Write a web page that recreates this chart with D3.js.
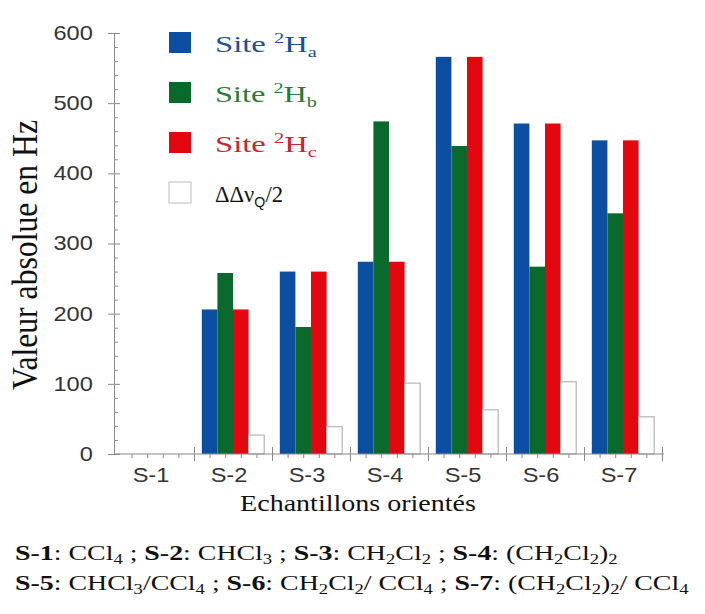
<!DOCTYPE html>
<html><head><meta charset="utf-8">
<script src="https://cdn.jsdelivr.net/npm/d3@7"></script>
<style>body{margin:0;background:#fff}</style>
</head><body>
<svg id="c" width="705" height="614"></svg>
<script>
// ---- data ----
const categories = ["S-1","S-2","S-3","S-4","S-5","S-6","S-7"];
const siteA = [0,206,260,274,566,471,447];
const siteB = [0,258,181,474,439,267,343];
const siteC = [0,206,260,274,566,471,447];
const deltaHalf = [0,27,39,101,63,103,53];
const yTicks = [0,100,200,300,400,500,600];
const seriesKeys = ["a","b","c","d"];
const legendSubs = ["a","b","c"];
const noteLine1 = [["S-1",": CCl","4"," ; "],["S-2",": CHCl","3"," ; "],["S-3",": CH","2","Cl","2"," ; "],["S-4",": (CH","2","Cl","2",")","2"]];
const noteLine2 = [["S-5",": CHCl","3","/CCl","4"," ; "],["S-6",": CH","2","Cl","2","/ CCl","4"," ; "],["S-7",": (CH","2","Cl","2",")","2","/ CCl","4"]];

// ---- style ----
const colors = {a:"#0b4ea2", b:"#0a6a2b", c:"#e4070f", d:"#ffffff"};
const textColors = ["#1d4f9a","#2a7a38","#d0232b","#111"];
const SX = 1.18;
const serif = "'Liberation Serif', 'Times New Roman', Times, serif";
const sans = "'Liberation Sans', Arial, Helvetica, sans-serif";

const svg = d3.select("#c");
const y = d3.scaleLinear().domain([0,600]).range([454,33]);
const x = d3.scaleBand().domain(categories).range([116,662]);
const xs = d3.scaleBand().domain(seriesKeys).range([x.bandwidth()*0.1, x.bandwidth()*0.9]);
const xt = d3.scaleLinear().domain([0,7]).range([116,662]);

const rows = categories.map((c,i)=>({cat:c, a:siteA[i], b:siteB[i], c:siteC[i], d:deltaHalf[i]}));

// bars
const g = svg.append("g");
rows.forEach(r=>{
  seriesKeys.forEach(k=>{
    if (r[k] <= 0) return;
    g.append("rect")
      .attr("x", x(r.cat)+xs(k))
      .attr("width", xs.bandwidth())
      .attr("y", y(r[k]))
      .attr("height", y(0)-y(r[k]))
      .attr("fill", colors[k])
      .attr("stroke", k==="d" ? "#b5b5b5" : "none")
      .attr("stroke-width", 1.2);
  });
});

// y axis
const axColor = "#8a8a8a";
const ya = svg.append("g").attr("transform","translate(114,0)")
  .call(d3.axisLeft(y).tickValues(yTicks).tickSize(6).tickSizeOuter(0).tickPadding(12));
ya.selectAll(".tick line").attr("x1",6).attr("stroke",axColor);
ya.select(".domain").attr("stroke",axColor);
ya.selectAll("text").attr("font-family",sans).attr("font-size",20)
  .attr("fill","#333").attr("transform",`scale(${SX},1)`);
const yminor = d3.range(0,601,20).filter(v=>v%100!==0);
const ym = svg.append("g").attr("transform","translate(114,0)")
  .call(d3.axisRight(y).tickValues(yminor).tickSize(4).tickFormat(""));
ym.select(".domain").remove();
ym.selectAll(".tick line").attr("stroke",axColor);

// x axis ticks
const xa = svg.append("g").attr("transform","translate(0,454)")
  .call(d3.axisBottom(xt).tickValues(d3.range(1,8)).tickSize(7).tickSizeOuter(0).tickFormat(""));
xa.selectAll(".tick line").attr("y1",-7).attr("stroke",axColor);
xa.select(".domain").attr("stroke",axColor).attr("d","M114,0H664");
const xminor = d3.range(0,7.01,0.2).filter(v=>Math.abs(v-Math.round(v))>1e-6);
const xm = svg.append("g").attr("transform","translate(0,454)")
  .call(d3.axisBottom(xt).tickValues(xminor).tickSize(4).tickFormat(""));
xm.select(".domain").remove();
xm.selectAll(".tick line").attr("stroke",axColor);

// x category labels
const xl = svg.append("g").attr("transform","translate(-4,454)")
  .call(d3.axisBottom(x).tickSize(0).tickPadding(14));
xl.select(".domain").remove();
xl.selectAll("text").attr("font-family",sans).attr("font-size",20)
  .attr("fill","#333").attr("transform",`scale(${SX},1)`);

// helper: stretch text horizontally to a target width
function fit(t, tx, ty, target, post) {
  const w = t.node().getComputedTextLength();
  t.attr("transform", `translate(${tx},${ty}) scale(${target/w},1)${post||""}`);
}

// axis titles
const yl = svg.append("text")
  .attr("text-anchor","middle").attr("font-family",serif).attr("font-size",30).attr("fill","#111")
  .text("Valeur absolue en Hz");
{
  const w = yl.node().getComputedTextLength();
  yl.attr("font-size", 30*270/w);
  yl.attr("transform","translate(37,255) scale(1.15,1) rotate(-90)");
}
const xlab = svg.append("text")
  .attr("text-anchor","middle").attr("font-family",serif).attr("font-size",23).attr("fill","#111")
  .text("Echantillons orientés");
fit(xlab, 358, 511, 236);

// legend
const lg = svg.append("g");
const legendW = [102,102,102,68];
seriesKeys.forEach((k,i)=>{
  const ty = 32 + i*50;
  lg.append("rect").attr("x",169).attr("y",ty).attr("width",22).attr("height",21)
    .attr("fill",colors[k]).attr("stroke", k==="d" ? "#c8c8c8" : "none").attr("stroke-width",1.2);
  const t = lg.append("text")
    .attr("font-family",serif).attr("font-size",24).attr("fill",textColors[i]);
  if (k !== "d") {
    t.append("tspan").text("Site ");
    t.append("tspan").attr("font-size",15).attr("dy",-9).text("2");
    t.append("tspan").attr("dy",9).text("H");
    t.append("tspan").attr("font-size",15).attr("dy",5).text(legendSubs[i]);
  } else {
    t.append("tspan").text("ΔΔν");
    t.append("tspan").attr("font-size",15).attr("dy",5).attr("font-family",sans).text("Q");
    t.append("tspan").attr("dy",-5).text("/2");
  }
  fit(t, 215, ty+20, legendW[i]);
});

// notes
function note(yb, parts, target) {
  const t = svg.append("text")
    .attr("font-family",serif).attr("font-size",21).attr("fill","#111");
  parts.forEach(p=>{
    p.forEach((s,j)=>{
      if (j===0) { t.append("tspan").attr("font-weight","bold").text(s); return; }
      const isSub = /^[0-9]$/.test(s);
      const prevSub = /^[0-9]$/.test(p[j-1]);
      const ts = t.append("tspan").text(s);
      if (isSub) ts.attr("font-size",14);
      if (isSub && !prevSub) ts.attr("dy",4);
      if (!isSub && prevSub) ts.attr("dy",-4);
    });
  });
  fit(t, 15, yb, target);
}
note(560, noteLine1, 603);
note(590, noteLine2, 674);
</script>
</body></html>
